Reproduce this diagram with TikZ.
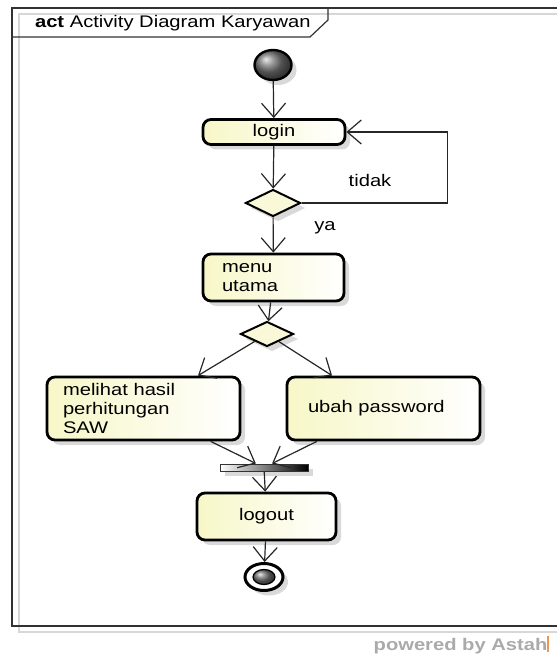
\documentclass[tikz,border=0pt]{standalone}
\usepackage{fontspec}
\newfontfamily\astahfont[FakeStretch=1.2]{Liberation Sans}
\usetikzlibrary{shapes.geometric, arrows.meta, shadows}
\definecolor{actionfill}{RGB}{247, 247, 200}
\definecolor{framegray}{RGB}{50, 50, 50}
\definecolor{shadowgray}{RGB}{215, 215, 215}
\definecolor{brandgray}{RGB}{170, 170, 170}
\definecolor{brandorange}{RGB}{240, 150, 80}

\begin{document}
\begin{tikzpicture}[
    x=0.5pt, y=-0.5pt,
    font=\astahfont\fontsize{8.4}{9.5}\selectfont,
    castshadow/.style={drop shadow={shadow xshift=2.5pt, shadow yshift=-2.5pt, fill=black, opacity=0.15}},
    action/.style={rectangle, draw=black, rounded corners=4pt, line width=1.4pt, left color=actionfill, right color=white, inner sep=0pt, castshadow},
    decision/.style={diamond, draw=black, line width=1pt, fill=actionfill!70!white, inner sep=0pt, minimum width=27.5pt, minimum height=13.5pt, castshadow},
    flow/.style={-{Straight Barb[length=7pt, width=12pt]}, line width=0.6pt, color=black!85},
]

\useasboundingbox (0,0) rectangle (557,657);

% Frame and title tab
\draw[shadowgray, line width=0.6pt] (557,14) -- (19,14) -- (19,632) -- (557,632);
\draw[framegray, line width=0.8pt] (557,8) -- (12,8) -- (12,626) -- (557,626);
\draw[framegray, line width=0.6pt] (12,37) -- (310,37) -- (328,20) -- (328,8);
\node[anchor=west] (title) at (28,23) {\textbf{act} Activity Diagram Karyawan};

% Start
\node[ellipse, draw=black, line width=1.2pt, ball color=black!55, minimum width=18.5pt, minimum height=15pt, inner sep=0pt, castshadow] (start) at (273,65) {};

% Login and check
\node[action, minimum width=71pt, minimum height=12.5pt] (login) at (274,132) {login};
\node[decision] (check) at (273,203) {};
\node (tidak) at (370,180) {tidak};
\node (ya) at (325,228) {ya};

% Menu
\node[action, minimum width=70.5pt, minimum height=23.5pt, align=left, text width=51.5pt, inner xsep=9.5pt] (menu) at (273.5,277.5) {menu\\utama};
\node[decision, minimum width=26.5pt, minimum height=12.5pt] (choice) at (267,334) {};

% Features
\node[action, minimum width=96.5pt, minimum height=31.5pt, align=left, text width=80.5pt, inner xsep=8pt] (saw) at (143.5,408.5) {melihat hasil\\perhitungan\\SAW};
\node[action, minimum width=96.5pt, minimum height=31.5pt, align=left, text width=75.5pt, inner xsep=10.5pt] (password) at (383.5,408.5) {ubah password};

% Join and logout
\node[rectangle, draw=black!80, line width=0.5pt, left color=white, right color=black, minimum width=44pt, minimum height=3.5pt, inner sep=0pt, castshadow] (join) at (264,467.5) {};
\node[action, minimum width=69.5pt, minimum height=23.5pt] (logout) at (266.5,516.5) {logout};

% End
\node[ellipse, draw=black, line width=1.5pt, fill=white, minimum width=19pt, minimum height=13.5pt, inner sep=0pt, castshadow] (end) at (264,577) {};
\node[ellipse, draw=black, line width=0.6pt, ball color=black!55, minimum width=11pt, minimum height=7.5pt, inner sep=0pt] (endcore) at (264,577) {};

% Flows
\draw[flow] (start) -- (login);
\draw[flow] (login) -- (check);
\draw[flow] (check) -- (menu);
\draw[flow] (check.east) -- ++(146,0) |- (login.east);
\draw[flow] (menu) -- (choice);
\draw[flow] (choice) -- (saw);
\draw[flow] (choice) -- (password);
\draw[flow] (saw) -- (join);
\draw[flow] (password) -- (join);
\draw[flow] (join) -- (logout);
\draw[flow] (logout) -- (end);

% Tool mark
\node[anchor=east, text=brandgray, font=\astahfont\bfseries\fontsize{8.4}{9.5}\selectfont] (brand) at (556,645) {powered by Astah\textcolor{brandorange}{\rule[-1pt]{0.8pt}{8pt}}};

\end{tikzpicture}
\end{document}
